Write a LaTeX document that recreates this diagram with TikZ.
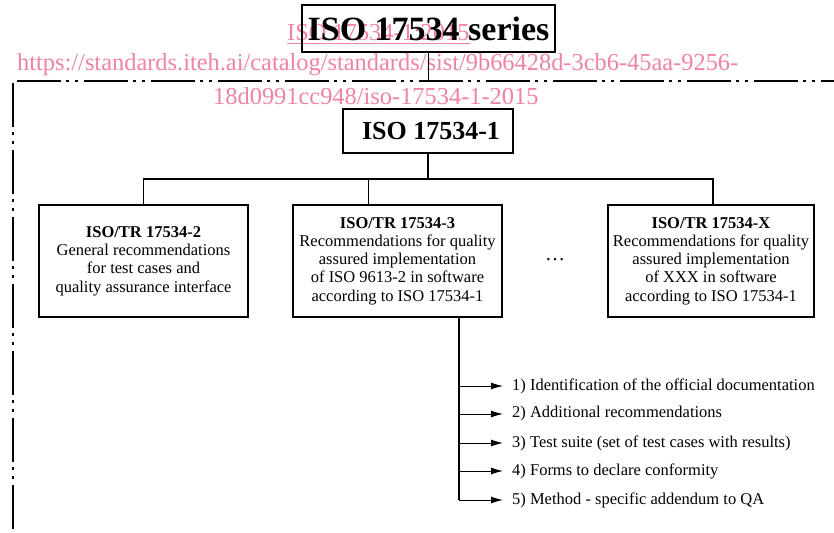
\documentclass[tikz,border=0pt]{standalone}
\usepackage{fontspec}
\setmainfont{Liberation Serif}
\usetikzlibrary{arrows.meta}
\definecolor{wm}{RGB}{240,130,165}
\tikzset{
  box/.style={draw, line width=1.5pt, align=center, font=\fontsize{16.5}{18.3}\selectfont, inner sep=0pt},
  conn/.style={line width=1.3pt},
  arr/.style={line width=1pt, -{Latex[length=12pt,width=7pt]}},
  item/.style={anchor=west, inner xsep=9pt, inner ysep=0pt, font=\fontsize{16.5}{18}\selectfont},
  border/.style={line width=1.8pt, dash pattern=on 44pt off 5pt on 3pt off 6pt on 3pt off 6pt},
  wmtext/.style={text=wm, font=\fontsize{24.4}{26}\selectfont, inner sep=0pt},
}
\begin{document}
\begin{tikzpicture}[x=1pt,y=-1pt]
\useasboundingbox (0,0) rectangle (834,532);
% watermark
\node[wmtext, anchor=base west] (w1) at (17,71) {https://standards.iteh.ai/catalog/standards/sist/9b66428d-3cb6-45aa-9256-};
\node[wmtext, anchor=base west] (w2) at (213,104) {18d0991cc948/iso-17534-1-2015};
\node[wmtext, anchor=base west] (w0) at (287,41) {\underline{ISO 17534-1:2015}};
% frame
\coordinate (fa) at (17,81);
\coordinate (fb) at (834,81);
\coordinate (fc) at (12.7,83);
\coordinate (fd) at (12.7,532);
\draw[border] (fa) -- (fb);
\draw[border] (fc) -- (fd);
% top
\node[box, font=\bfseries\fontsize{34}{36}\selectfont, minimum width=253pt, minimum height=47pt] (top) at (428.5,28.5) {ISO 17534 series};
\coordinate (tj) at (428.5,81);
\draw[conn] (top.south) -- (tj);
\node[box, font=\bfseries\fontsize{26}{28}\selectfont, minimum width=170pt, minimum height=44pt] (p1) at (428,131) {\hspace*{6pt}ISO 17534-1};
\coordinate (j) at (428,179);
\draw[conn] (p1.south) -- (j);
% boxes
\node[box, minimum width=209pt, minimum height=112pt] (b1) at (143.5,261) {\textbf{ISO/TR 17534-2}\\General recommendations\\for test cases and\\quality assurance interface};
\node[box, minimum width=209pt, minimum height=112pt] (b2) at (397.5,261) {\textbf{ISO/TR 17534-3}\\Recommendations for quality\\assured implementation\\of ISO 9613-2 in software\\according to ISO 17534-1};
\node[box, minimum width=206pt, minimum height=112pt] (b3) at (711,261) {\textbf{ISO/TR 17534-X}\\Recommendations for quality\\assured implementation\\of XXX in software\\according to ISO 17534-1};
\node[font=\fontsize{20}{20}\selectfont, inner sep=0pt] (dots) at (555,260) {\dots};
\draw[conn] (b1.north) |- (j) -| ([xshift=2pt]b3.north);
\draw[conn] ([xshift=-29pt]b2.north) -- ([xshift=-29pt]b2.north |- j);
% items
\node[item] (i1) at (503,386) {1) Identification of the official documentation};
\node[item] (i2) at (503,414) {2) Additional recommendations};
\node[item] (i3) at (503,443) {3) Test suite (set of test cases with results)};
\node[item] (i4) at (503,471) {4) Forms to declare conformity};
\node[item] (i5) at (503,500) {5) Method - specific addendum to QA};
\coordinate (t0) at ([xshift=61.5pt]b2.south);
\draw[conn] (t0) -- (t0 |- i5);
\foreach \k in {1,...,5} {
  \draw[arr] (t0 |- i\k) -- (i\k);
}
\end{tikzpicture}
\end{document}
